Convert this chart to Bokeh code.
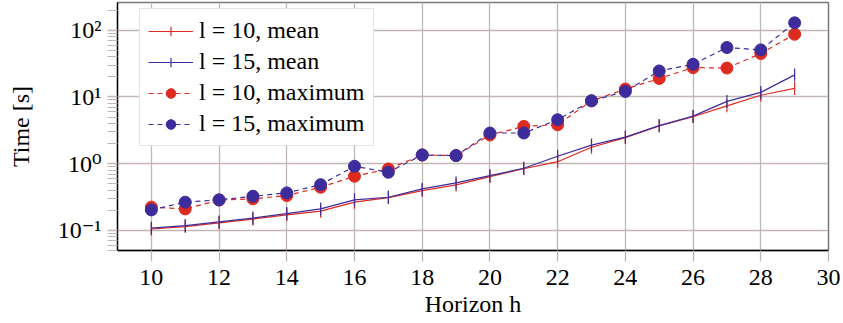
from bokeh.plotting import figure
from bokeh.models import FixedTicker, CustomJSTickFormatter, Range1d, Legend, LegendItem
from bokeh.embed import file_html
from bokeh.resources import INLINE

# ---- data ----
horizon = list(range(10, 30))
mean_l10 = [0.105, 0.114, 0.130, 0.148, 0.171, 0.194, 0.265, 0.310, 0.395, 0.480,
            0.640, 0.840, 1.07, 1.76, 2.46, 3.68, 5.05, 7.36, 10.6, 13.4]
mean_l15 = [0.108, 0.118, 0.134, 0.153, 0.179, 0.210, 0.287, 0.314, 0.419, 0.515,
            0.662, 0.853, 1.29, 1.90, 2.50, 3.72, 5.15, 8.57, 11.7, 21.4]
max_l10 = [0.223, 0.210, 0.285, 0.297, 0.333, 0.443, 0.648, 0.834, 1.35, 1.32,
           2.69, 3.62, 3.83, 8.74, 13.1, 18.9, 27.5, 27.1, 44.7, 87.0]
max_l15 = [0.203, 0.265, 0.287, 0.325, 0.365, 0.485, 0.914, 0.743, 1.35, 1.32,
           2.88, 2.88, 4.55, 8.74, 12.1, 24.5, 30.9, 55.0, 50.7, 129.0]

x_ticks = [10, 12, 14, 16, 18, 20, 22, 24, 26, 28, 30]
y_ticks = [0.1, 1, 10, 100]
y_tick_labels = ["10\u207b\u00b9", "10\u2070", "10\u00b9", "10\u00b2"]
y_minor = [k * 10.0 ** e for e in range(-2, 3) for k in range(2, 10)]

labels = ["l = 10, mean", "l = 15, mean", "l = 10, maximum", "l = 15, maximum"]

RED = "#de2b1f"
BLUE = "#3d2c9c"
GRID = "#c2b6b6"
FONT = "Liberation Serif, DejaVu Serif, serif"

p = figure(width=842, height=322, y_axis_type="log",
           x_range=Range1d(9, 30), y_range=Range1d(0.05, 260),
           output_backend="svg", toolbar_location=None,
           min_border_left=117, min_border_right=14, min_border_top=2,
           min_border_bottom=72)

p.background_fill_color = "white"
p.outline_line_color = "#7a7a7a"
p.outline_line_width = 1.5

# grids
p.xgrid.grid_line_color = GRID
p.ygrid.grid_line_color = GRID
p.xgrid.grid_line_width = 1.3
p.ygrid.grid_line_width = 1.3
p.xgrid.ticker = FixedTicker(ticks=x_ticks)
p.ygrid.ticker = FixedTicker(ticks=y_ticks)

# axes
p.xaxis.ticker = FixedTicker(ticks=x_ticks)
p.yaxis.ticker = FixedTicker(ticks=y_ticks, minor_ticks=y_minor)
p.yaxis.formatter = CustomJSTickFormatter(args=dict(t=y_ticks, l=y_tick_labels), code="""
let best = 0; let bd = 1e9;
for (let i = 0; i < t.length; i++) {
  const d = Math.abs(Math.log10(t[i]) - Math.log10(tick));
  if (d < bd) { bd = d; best = i; }
}
return l[best];
""")
for ax in (p.xaxis[0], p.yaxis[0]):
    ax.axis_line_color = "black"
    ax.axis_line_width = 1.3
    ax.major_tick_line_color = GRID
    ax.minor_tick_line_color = GRID
    ax.major_tick_line_width = 1.3
    ax.minor_tick_line_width = 1.0
    ax.major_tick_in = 0
    ax.minor_tick_in = 0
    ax.major_label_text_font = FONT
    ax.major_label_text_font_size = "24px"
    ax.major_label_text_color = "black"
    ax.axis_label_text_font = FONT
    ax.axis_label_text_font_size = "24px"
    ax.axis_label_text_font_style = "normal"
    ax.axis_label_text_color = "black"

p.xaxis.major_tick_out = 11
p.xaxis.minor_tick_out = 0
p.xaxis.major_label_standoff = 8
p.xaxis.axis_label = "Horizon h"
p.xaxis.axis_label_standoff = 3

p.yaxis.major_tick_out = 10
p.yaxis.minor_tick_out = 10
p.yaxis.major_label_standoff = 6
p.yaxis.axis_label = "Time [s]"
p.yaxis.axis_label_standoff = 21

# series
r1l = p.line(horizon, mean_l10, line_color=RED, line_width=1.2)
r1m = p.scatter(horizon, mean_l10, marker="dash", angle=1.5708, size=13,
                line_color=RED, line_width=1.2)
r1k = p.scatter(horizon, mean_l10, marker="cross", size=13,
                line_color=RED, line_width=1.2, visible=False)
r2l = p.line(horizon, mean_l15, line_color=BLUE, line_width=1.2)
r2m = p.scatter(horizon, mean_l15, marker="dash", angle=1.5708, size=13,
                line_color=BLUE, line_width=1.2)
r2k = p.scatter(horizon, mean_l15, marker="cross", size=13,
                line_color=BLUE, line_width=1.2, visible=False)
r3l = p.line(horizon, max_l10, line_color=RED, line_width=1.2, line_dash="5 4")
r3m = p.scatter(horizon, max_l10, marker="circle", size=12,
                fill_color=RED, line_color=RED)
r4l = p.line(horizon, max_l15, line_color=BLUE, line_width=1.2, line_dash="5 4")
r4m = p.scatter(horizon, max_l15, marker="circle", size=12,
                fill_color=BLUE, line_color=BLUE)

legend = Legend(items=[
    LegendItem(label=labels[0], renderers=[r1l, r1k]),
    LegendItem(label=labels[1], renderers=[r2l, r2k]),
    LegendItem(label=labels[2], renderers=[r3l, r3m]),
    LegendItem(label=labels[3], renderers=[r4l, r4m]),
], location="top_left")
legend.margin = 0
legend.padding = 8
legend.spacing = 4
legend.glyph_width = 45
legend.glyph_height = 24
legend.label_height = 24
legend.label_standoff = 6
legend.label_text_font = FONT
legend.label_text_font_size = "24px"
legend.label_text_color = "black"
legend.border_line_color = "#cccccc"
legend.border_line_width = 1.3
legend.background_fill_alpha = 1.0
p.add_layout(legend, "center")
legend.location = (22, 104)

open("out.html", "w").write(file_html(p, INLINE))
